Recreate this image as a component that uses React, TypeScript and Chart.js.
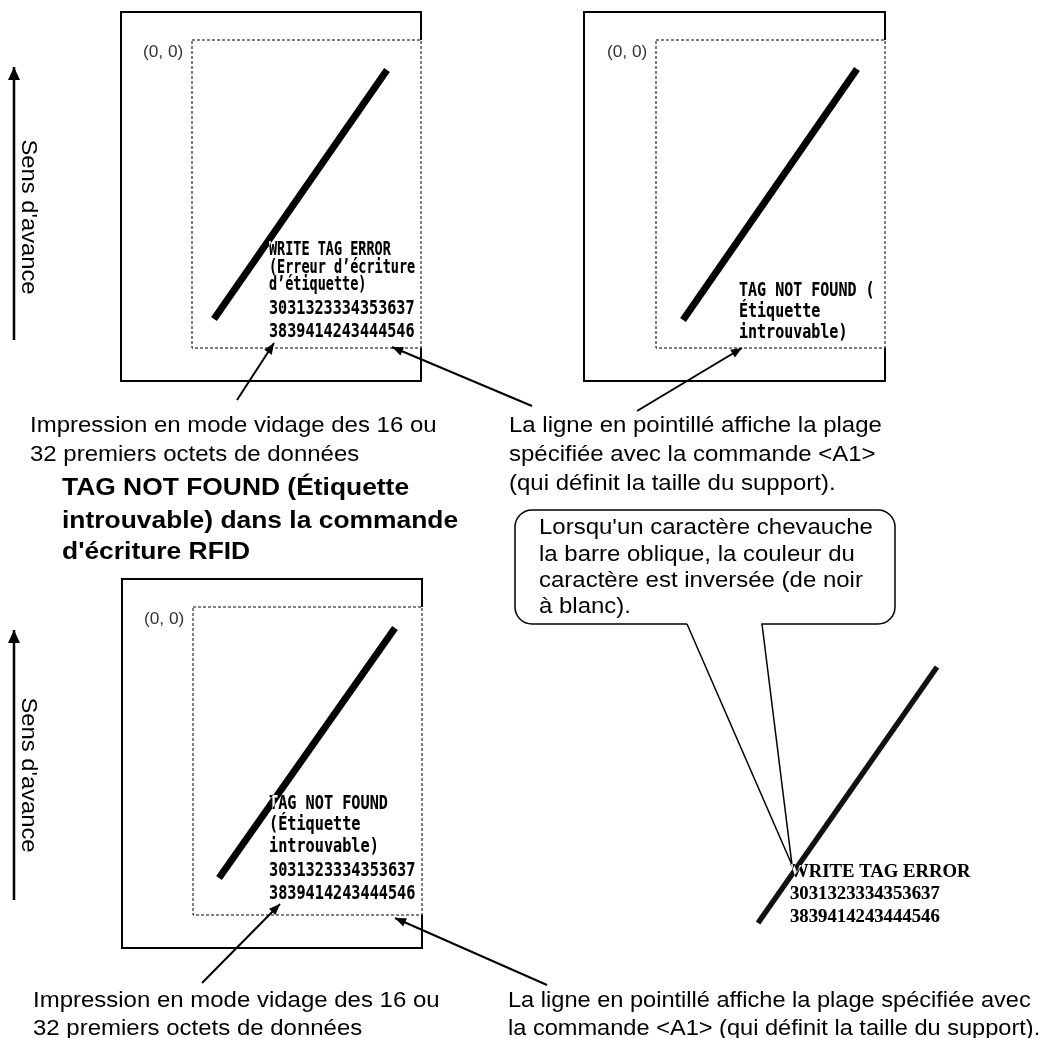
import React, { useEffect, useRef } from "react";
import { Chart, registerables } from "chart.js";

Chart.register(...registerables);

type P = [number, number];

const W = 1042;
const H = 1038;

// ---- outer label frames (right edge interrupted by the dotted print area) ----
const frameTopLeft: P[] = [[421, 40], [421, 12], [121, 12], [121, 381], [421, 381], [421, 348]];
const frameTopRight: P[] = [[885, 40], [885, 12], [584, 12], [584, 381], [885, 381], [885, 348]];
const frameBottom: P[] = [[422, 607], [422, 579], [122, 579], [122, 948], [422, 948], [422, 915]];

// ---- dotted print areas (<A1> range) ----
const areaTopLeft: P[] = [[192, 40], [421, 40], [421, 348], [192, 348], [192, 40]];
const areaTopRight: P[] = [[656, 40], [885, 40], [885, 348], [656, 348], [656, 40]];
const areaBottom: P[] = [[193, 607], [422, 607], [422, 915], [193, 915], [193, 607]];

// ---- oblique bars ----
const slashTopLeft: P[] = [[214, 319], [387, 70]];
const slashTopRight: P[] = [[683, 320], [857, 69]];
const slashBottom: P[] = [[219, 878], [395, 628]];
const slashDetail: P[] = [[758, 923], [937, 667]];

// ---- arrows (from -> tip) ----
const feedArrowTop: P[] = [[14, 340], [14, 67]];
const feedArrowBottom: P[] = [[14, 900], [14, 630]];
const dumpArrowTop: P[] = [[237, 400], [274, 343]];
const areaArrowTopLeft: P[] = [[532, 406], [392, 347]];
const areaArrowTopRight: P[] = [[637, 411], [742, 348]];
const dumpArrowBottom: P[] = [[202, 983], [280, 904]];
const areaArrowBottom: P[] = [[547, 985], [395, 918]];

// ---- callout bubble ----
const calloutRect: number[] = [515, 510, 895, 624]; // left, top, right, bottom
const calloutGap: number[] = [687, 762];
const calloutTip: P = [792, 865];

// ---- texts ----
const originLabel = "(0, 0)";
const originPositions: P[] = [[143, 57], [607, 57], [144, 624]];

const feedLabel = "Sens d'avance";
const feedLabelCenters: P[] = [[22, 217], [22, 775]];

const monoTopLeft = ["WRITE TAG ERROR", "(Erreur d’écriture", "d’étiquette)", "3031323334353637", "3839414243444546"];
const monoTopLeftY = [255, 273, 290, 314, 337];
const monoTopLeftX = 269;
const monoTopLeftScale = [0.71, 0.71, 0.71, 0.795, 0.795];

const monoTopRight = ["TAG NOT FOUND (", "Étiquette", "introuvable)"];
const monoTopRightY = [296, 317, 338];
const monoTopRightX = 739;

const monoBottom = ["TAG NOT FOUND", "(Étiquette", "introuvable)", "3031323334353637", "3839414243444546"];
const monoBottomY = [809, 830, 852, 876, 899];
const monoBottomX = 269;

const serifDetail = ["WRITE TAG ERROR", "3031323334353637", "3839414243444546"];
const serifDetailY = [877, 899, 922];
const serifDetailX = 790;

const noteDumpTop = ["Impression en mode vidage des 16 ou", "32 premiers octets de données"];
const noteDumpTopY = [432, 461];
const noteDumpTopX = 30;

const noteAreaTop = ["La ligne en pointillé affiche la plage", "spécifiée avec la commande <A1>", "(qui définit la taille du support)."];
const noteAreaTopY = [432, 461, 490];
const noteAreaTopX = 509;

const titleLines = ["TAG NOT FOUND (Étiquette", "introuvable) dans la commande", "d'écriture RFID"];
const titleY = [495, 528, 559];
const titleX = 62;

const calloutLines = ["Lorsqu'un caractère chevauche", "la barre oblique, la couleur du", "caractère est inversée (de noir", "à blanc)."];
const calloutY = [534, 561, 587, 613];
const calloutX = 539;

const noteDumpBottom = ["Impression en mode vidage des 16 ou", "32 premiers octets de données"];
const noteDumpBottomY = [1007, 1035];
const noteDumpBottomX = 33;

const noteAreaBottom = ["La ligne en pointillé affiche la plage spécifiée avec", "la commande <A1> (qui définit la taille du support)."];
const noteAreaBottomY = [1007, 1035];
const noteAreaBottomX = 508;

const SANS = "'Liberation Sans', Arial, sans-serif";
const MONO = "'DejaVu Sans Mono', monospace";
const SERIF = "'Liberation Serif', serif";

function toXY(pts: P[]) {
  return pts.map(([x, y]) => ({ x, y }));
}

function lineDs(pts: P[], width: number, extra: any = {}) {
  return {
    data: toXY(pts),
    showLine: true,
    borderColor: "#000",
    backgroundColor: "#000",
    borderWidth: width,
    pointRadius: 0,
    pointHoverRadius: 0,
    fill: false,
    tension: 0,
    clip: false,
    borderCapStyle: "butt",
    borderJoinStyle: "miter",
    ...extra,
  };
}

const diagramPlugin = {
  id: "diagram",
  beforeDraw(chart: any) {
    const ctx = chart.ctx;
    ctx.save();
    ctx.fillStyle = "#fff";
    ctx.fillRect(0, 0, chart.width, chart.height);
    ctx.restore();
  },
  afterDatasetsDraw(chart: any) {
    const ctx: CanvasRenderingContext2D = chart.ctx;
    const sx = chart.scales.x;
    const sy = chart.scales.y;
    const px = (v: number) => sx.getPixelForValue(v);
    const py = (v: number) => sy.getPixelForValue(v);

    // arrowheads
    chart.data.datasets.forEach((ds: any, i: number) => {
      if (!ds.arrowHead) return;
      const meta = chart.getDatasetMeta(i);
      const pts = meta.data;
      const a = pts[pts.length - 2];
      const b = pts[pts.length - 1];
      const ang = Math.atan2(b.y - a.y, b.x - a.x);
      const [len, wid] = ds.arrowHead;
      ctx.save();
      ctx.translate(b.x, b.y);
      ctx.rotate(ang);
      ctx.beginPath();
      ctx.moveTo(0, 0);
      ctx.lineTo(-len, -wid / 2);
      ctx.lineTo(-len, wid / 2);
      ctx.closePath();
      ctx.fillStyle = "#000";
      ctx.fill();
      ctx.restore();
    });

    // callout bubble
    {
      const [l, t, r, b] = calloutRect;
      const rad = 17;
      ctx.save();
      ctx.strokeStyle = "#000";
      ctx.lineWidth = 1.5;
      ctx.beginPath();
      ctx.moveTo(px(calloutGap[0]), py(b));
      ctx.lineTo(px(l + rad), py(b));
      ctx.arcTo(px(l), py(b), px(l), py(b - rad), rad);
      ctx.lineTo(px(l), py(t + rad));
      ctx.arcTo(px(l), py(t), px(l + rad), py(t), rad);
      ctx.lineTo(px(r - rad), py(t));
      ctx.arcTo(px(r), py(t), px(r), py(t + rad), rad);
      ctx.lineTo(px(r), py(b - rad));
      ctx.arcTo(px(r), py(b), px(r - rad), py(b), rad);
      ctx.lineTo(px(calloutGap[1]), py(b));
      ctx.lineTo(px(calloutTip[0]), py(calloutTip[1]));
      ctx.lineTo(px(calloutGap[0]), py(b));
      ctx.stroke();
      ctx.restore();
    }

    const text = (
      s: string,
      x: number,
      y: number,
      font: string,
      scaleX: number,
      color = "#000",
      invert = false
    ) => {
      ctx.save();
      ctx.translate(px(x), py(y));
      ctx.scale(scaleX, 1);
      ctx.font = font;
      ctx.textBaseline = "alphabetic";
      ctx.textAlign = "left";
      if (invert) {
        ctx.globalCompositeOperation = "difference";
        ctx.fillStyle = "#fff";
      } else {
        ctx.fillStyle = color;
      }
      ctx.fillText(s, 0, 0);
      ctx.restore();
    };

    // origin labels
    originPositions.forEach(([x, y]) => text(originLabel, x, y, `16px ${SANS}`, 1.08, "#333"));

    // feed direction labels (rotated)
    feedLabelCenters.forEach(([x, y]) => {
      ctx.save();
      ctx.translate(px(x), py(y));
      ctx.rotate(Math.PI / 2);
      ctx.scale(1.08, 1);
      ctx.font = `22px ${SANS}`;
      ctx.textAlign = "center";
      ctx.textBaseline = "alphabetic";
      ctx.fillStyle = "#000";
      ctx.fillText(feedLabel, 0, 0);
      ctx.restore();
    });

    // printed (monospace) content, inverted where it overlaps the bar
    const mono = `bold 19px ${MONO}`;
    monoTopLeft.forEach((s, i) => text(s, monoTopLeftX, monoTopLeftY[i], mono, monoTopLeftScale[i], "#000", true));
    monoTopRight.forEach((s, i) => text(s, monoTopRightX, monoTopRightY[i], mono, 0.79, "#000", true));
    monoBottom.forEach((s, i) => text(s, monoBottomX, monoBottomY[i], mono, 0.8, "#000", true));
    serifDetail.forEach((s, i) => text(s, serifDetailX, serifDetailY[i], `bold 18px ${SERIF}`, 1.04, "#000", true));

    // notes
    const note = `22px ${SANS}`;
    noteDumpTop.forEach((s, i) => text(s, noteDumpTopX, noteDumpTopY[i], note, 1.09));
    noteAreaTop.forEach((s, i) => text(s, noteAreaTopX, noteAreaTopY[i], note, 1.09));
    titleLines.forEach((s, i) => text(s, titleX, titleY[i], `bold 24px ${SANS}`, 1.1));
    calloutLines.forEach((s, i) => text(s, calloutX, calloutY[i], note, 1.09));
    noteDumpBottom.forEach((s, i) => text(s, noteDumpBottomX, noteDumpBottomY[i], note, 1.09));
    noteAreaBottom.forEach((s, i) => text(s, noteAreaBottomX, noteAreaBottomY[i], note, 1.072));
  },
};

export default function App() {
  const ref = useRef<HTMLCanvasElement | null>(null);

  useEffect(() => {
    if (!ref.current) return;
    const dotted = { borderDash: [3, 2], borderWidth: 1 };
    const chart = new Chart(ref.current, {
      type: "scatter",
      data: {
        datasets: [
          lineDs(frameTopLeft, 2),
          lineDs(frameTopRight, 2),
          lineDs(frameBottom, 2),
          lineDs(areaTopLeft, 1, dotted),
          lineDs(areaTopRight, 1, dotted),
          lineDs(areaBottom, 1, dotted),
          lineDs(slashTopLeft, 7),
          lineDs(slashTopRight, 7),
          lineDs(slashBottom, 7),
          lineDs(slashDetail, 5.5, { borderColor: "#111" }),
          lineDs(feedArrowTop, 2.5, { arrowHead: [13, 12] }),
          lineDs(feedArrowBottom, 2.5, { arrowHead: [13, 12] }),
          lineDs(dumpArrowTop, 2, { arrowHead: [11, 9] }),
          lineDs(areaArrowTopLeft, 2, { arrowHead: [11, 9] }),
          lineDs(areaArrowTopRight, 2, { arrowHead: [11, 9] }),
          lineDs(dumpArrowBottom, 2, { arrowHead: [11, 9] }),
          lineDs(areaArrowBottom, 2, { arrowHead: [11, 9] }),
        ] as any,
      },
      options: {
        animation: false,
        responsive: false,
        maintainAspectRatio: false,
        devicePixelRatio: 1,
        events: [],
        layout: { padding: 0 },
        plugins: { legend: { display: false }, tooltip: { enabled: false } },
        scales: {
          x: { type: "linear", min: 0, max: W, display: false },
          y: { type: "linear", min: 0, max: H, reverse: true, display: false },
        },
      } as any,
      plugins: [diagramPlugin],
    });
    return () => chart.destroy();
  }, []);

  return (
    <div style={{ position: "fixed", left: 0, top: 0, width: W, height: H, background: "#fff" }}>
      <canvas ref={ref} width={W} height={H} style={{ display: "block", width: W, height: H }} />
    </div>
  );
}
